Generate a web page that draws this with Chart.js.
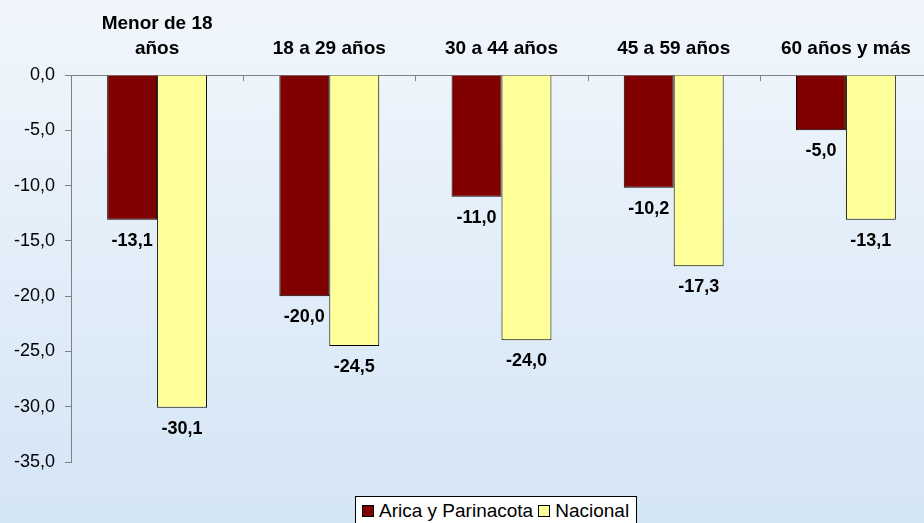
<!DOCTYPE html>
<html>
<head>
<meta charset="utf-8">
<script src="https://cdn.jsdelivr.net/npm/chart.js@4"></script>
<style>
  html, body { margin: 0; padding: 0; width: 924px; height: 523px; overflow: hidden; }
  body { background: linear-gradient(#f1f6fc, #d4e5f6); font-family: "Liberation Sans", Arial, sans-serif; position: relative; }
  #wrap { position: absolute; left: 0; top: 0; width: 934px; height: 523px; }
  #legend { position: absolute; left: 355px; top: 496px; width: 282px; height: 30px; background: #fff; border: 1px solid #000; display: flex; align-items: center; font-size: 19px; color: #000; box-sizing: border-box; padding-left: 6px; white-space: nowrap; }
  #legend span.box { flex: none; display: inline-block; width: 10px; height: 10px; border: 1px solid #000; margin-right: 5px; }
  #legend span.txt { flex: none; margin-right: 5px; }
</style>
</head>
<body>
<div id="wrap"><canvas id="chart"></canvas></div>
<div id="legend"></div>
<script>
const categories = [['Menor de 18', 'años'], '18 a 29 años', '30 a 44 años', '45 a 59 años', '60 años y más'];
const arica = [-13.1, -20.0, -11.0, -10.2, -5.0];
const nacional = [-30.1, -24.5, -24.0, -17.3, -13.1];
const seriesNames = ['Arica y Parinacota', 'Nacional'];
const seriesColors = ['#800000', '#ffff99'];

const fontFamily = '"Liberation Sans", Arial, sans-serif';

function fmt(v) {
  return v.toFixed(1).replace('.', ',');
}

// value labels under each bar end
const valueLabels = {
  id: 'valueLabels',
  afterDatasetsDraw(chart) {
    const ctx = chart.ctx;
    ctx.save();
    ctx.font = 'bold 18px ' + fontFamily;
    ctx.fillStyle = '#000';
    ctx.textAlign = 'center';
    ctx.textBaseline = 'middle';
    chart.data.datasets.forEach((ds, i) => {
      chart.getDatasetMeta(i).data.forEach((bar, j) => {
        ctx.fillText(fmt(ds.data[j]), bar.x, bar.y + 21);
      });
    });
    ctx.restore();
  }
};

// small tick marks hanging below the category axis
const catTicks = {
  id: 'catTicks',
  afterDraw(chart) {
    const x = chart.scales.x;
    const ctx = chart.ctx;
    ctx.save();
    ctx.strokeStyle = '#808080';
    ctx.lineWidth = 1;
    for (let i = 1; i < categories.length; i++) {
      const px = Math.round((x.getPixelForValue(i - 1) + x.getPixelForValue(i)) / 2) + 0.5;
      ctx.beginPath();
      ctx.moveTo(px, x.bottom);
      ctx.lineTo(px, x.bottom + 6);
      ctx.stroke();
    }
    ctx.restore();
  }
};

const ctx = document.getElementById('chart').getContext('2d');
const chart = new Chart(ctx, {
  type: 'bar',
  data: {
    labels: categories,
    datasets: [
      { label: seriesNames[0], data: arica, backgroundColor: seriesColors[0], borderColor: '#000', borderWidth: 1 },
      { label: seriesNames[1], data: nacional, backgroundColor: seriesColors[1], borderColor: '#000', borderWidth: 1 }
    ]
  },
  options: {
    responsive: true,
    maintainAspectRatio: false,
    animation: false,
    layout: { padding: { top: 0, right: 2, bottom: 61, left: 0 } },
    datasets: { bar: { categoryPercentage: 0.58, barPercentage: 1 } },
    plugins: {
      legend: { display: false },
      tooltip: { enabled: false }
    },
    scales: {
      x: {
        position: 'top',
        grid: { display: false },
        border: { color: '#808080' },
        ticks: {
          color: '#000',
          padding: 5,
          maxRotation: 0,
          font: { family: fontFamily, size: 19, weight: 'bold', lineHeight: 1.35 }
        },
        afterFit(scale) { scale.height = 75; }
      },
      y: {
        min: -35,
        max: 0,
        grid: { drawOnChartArea: false, color: '#808080', tickLength: 6 },
        border: { color: '#808080' },
        ticks: {
          stepSize: 5,
          color: '#000',
          padding: 10,
          font: { family: fontFamily, size: 18 },
          callback: v => fmt(v)
        },
        afterFit(scale) { scale.width = 71; }
      }
    }
  },
  plugins: [valueLabels, catTicks]
});

const legendEl = document.getElementById('legend');
seriesNames.forEach((name, i) => {
  const box = document.createElement('span');
  box.className = 'box';
  box.style.background = seriesColors[i];
  const txt = document.createElement('span');
  txt.className = 'txt';
  txt.textContent = name;
  legendEl.appendChild(box);
  legendEl.appendChild(txt);
});
</script>
</body>
</html>
